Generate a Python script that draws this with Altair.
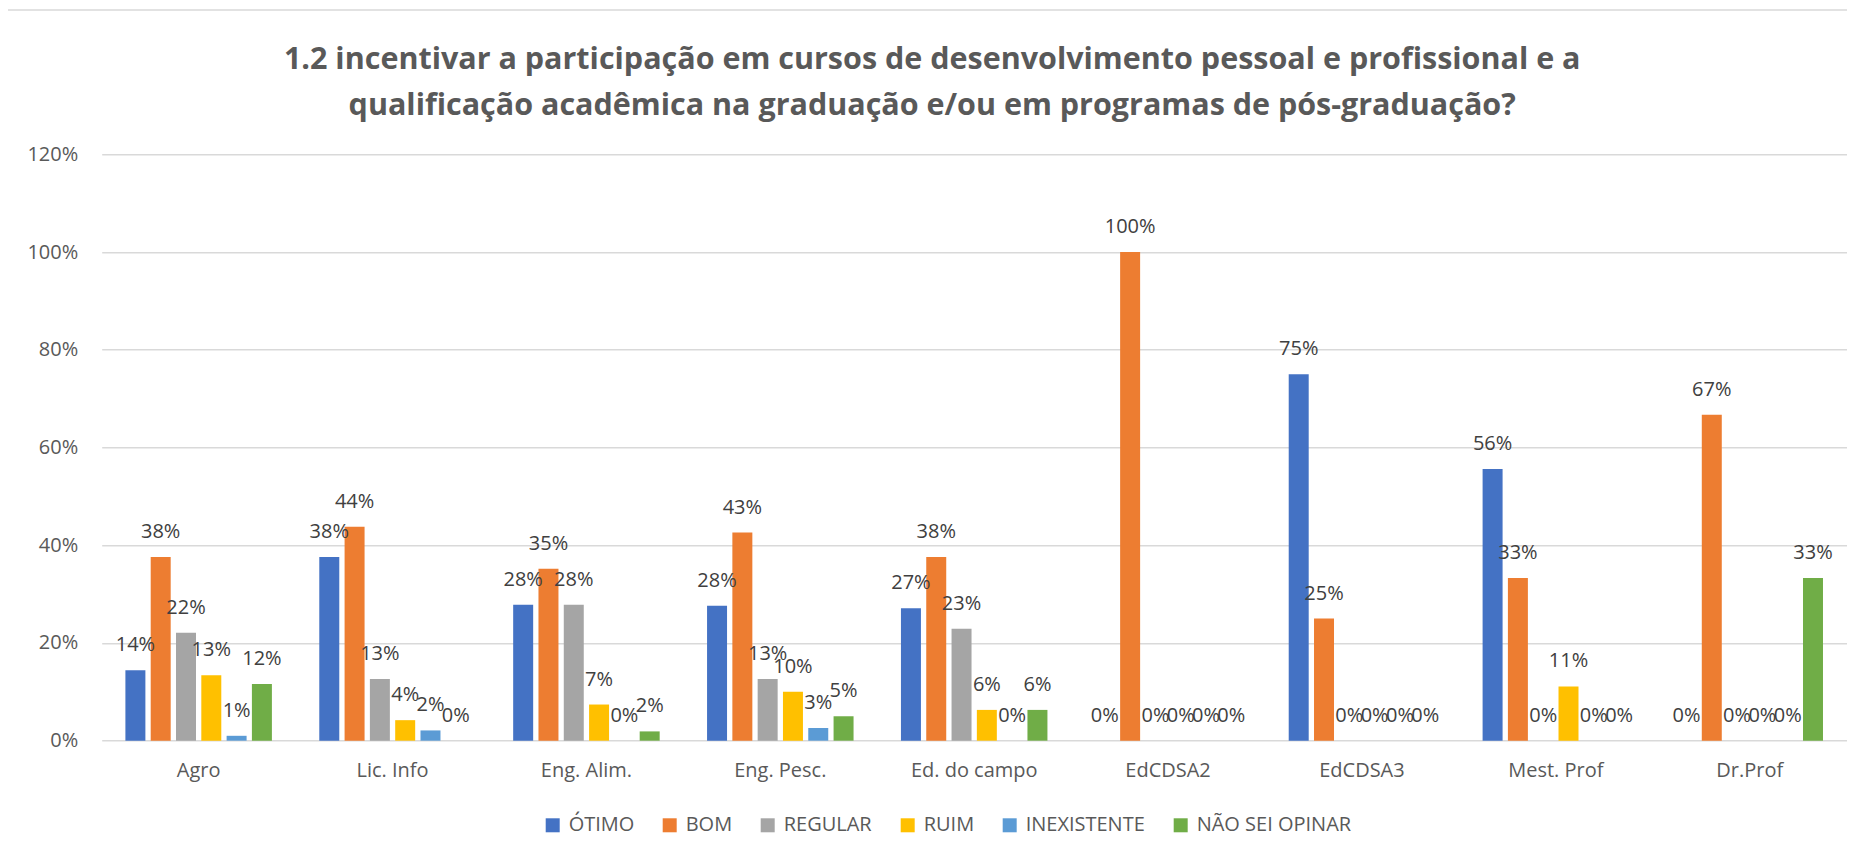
import altair as alt
import pandas as pd

categories = ["Agro", "Lic. Info", "Eng. Alim.", "Eng. Pesc.", "Ed. do campo",
              "EdCDSA2", "EdCDSA3", "Mest. Prof", "Dr.Prof"]
series = ["ÓTIMO", "BOM", "REGULAR", "RUIM", "INEXISTENTE", "NÃO SEI OPINAR"]
colors = ["#4472C4", "#ED7D31", "#A5A5A5", "#FFC000", "#5B9BD5", "#70AD47"]

otimo = [0.144, 0.376, 0.278, 0.276, 0.271, 0.0, 0.750, 0.556, 0.0]
bom = [0.376, 0.438, 0.352, 0.426, 0.376, 1.0, 0.250, 0.333, 0.667]
regular = [0.221, 0.126, 0.278, 0.126, 0.229, 0.0, 0.0, 0.0, 0.0]
ruim = [0.134, 0.042, 0.074, 0.100, 0.063, 0.0, 0.0, 0.111, 0.0]
inexistente = [0.010, 0.021, 0.0, 0.026, 0.0, 0.0, 0.0, 0.0, 0.0]
nao_sei = [0.116, 0.0, 0.019, 0.050, 0.063, 0.0, 0.0, 0.0, 0.333]

title_lines = [
    "1.2 incentivar a participação em cursos de desenvolvimento pessoal e profissional e a",
    "qualificação acadêmica na graduação e/ou em programas de pós-graduação?",
]

values = [otimo, bom, regular, ruim, inexistente, nao_sei]
rows = []
for s, vals in zip(series, values):
    for c, v in zip(categories, vals):
        rows.append({"categoria": c, "serie": s, "valor": v})
df = pd.DataFrame(rows)

x_enc = alt.X("categoria:N", sort=categories,
              scale=alt.Scale(paddingInner=0.217, paddingOuter=0.1085),
              axis=alt.Axis(title=None, labelAngle=0, ticks=False, domain=False,
                            labelFontSize=20, labelColor="#595959",
                            labelPadding=20, grid=False))
xoff_enc = alt.XOffset("serie:N", sort=series,
                       scale=alt.Scale(paddingInner=0.21, paddingOuter=0.105))
y_enc = alt.Y("valor:Q",
              scale=alt.Scale(domain=[0, 1.2], nice=False),
              axis=alt.Axis(title=None, format=".0%", values=[0, 0.2, 0.4, 0.6, 0.8, 1.0, 1.2],
                            ticks=False, domain=False, labelFontSize=20,
                            labelColor="#595959", labelPadding=24,
                            gridColor="#d9d9d9", gridWidth=1.4))

base = alt.Chart(df)

bars = base.mark_bar().encode(
    x=x_enc,
    xOffset=xoff_enc,
    y=y_enc,
    color=alt.Color("serie:N", sort=series,
                    scale=alt.Scale(domain=series, range=colors),
                    legend=alt.Legend(title=None, orient="none", direction="horizontal",
                                      legendX=441, legendY=661,
                                      symbolType="square", symbolSize=196,
                                      symbolStrokeWidth=0,
                                      labelFontSize=20, labelColor="#595959",
                                      columnPadding=25, labelOffset=6, padding=0)),
)

labels = base.mark_text(baseline="middle", dy=-25, fontSize=20, color="#404040").encode(
    x=alt.X("categoria:N", sort=categories),
    xOffset=alt.XOffset("serie:N", sort=series),
    y=alt.Y("valor:Q"),
    text=alt.Text("valor:Q", format=".0%"),
)

border = alt.Chart(pd.DataFrame({"b": [0]})).mark_rect(
    fill="transparent", stroke="#d9d9d9", strokeWidth=1.5
).encode(
    x=alt.value(-94.7), x2=alt.value(3000),
    y=alt.value(-144.3), y2=alt.value(3000),
)

chart = alt.layer(border, bars, labels).properties(
    width=1745,
    height=586.4,
    autosize=alt.AutoSizeParams(type="none"),
    padding={"left": 93.7, "top": 146.3, "right": 0, "bottom": 100},
    title=alt.Title(text=title_lines, fontSize=30.5, font="Open Sans", fontWeight="bold",
                    color="#595959", anchor="middle", dx=-42, lineHeight=46,
                    baseline="alphabetic", offset=-136),
).configure(
    font="Open Sans",
).configure_view(
    stroke=None,
)

chart.save("out.html", embed_options={"renderer": "svg", "actions": False})
